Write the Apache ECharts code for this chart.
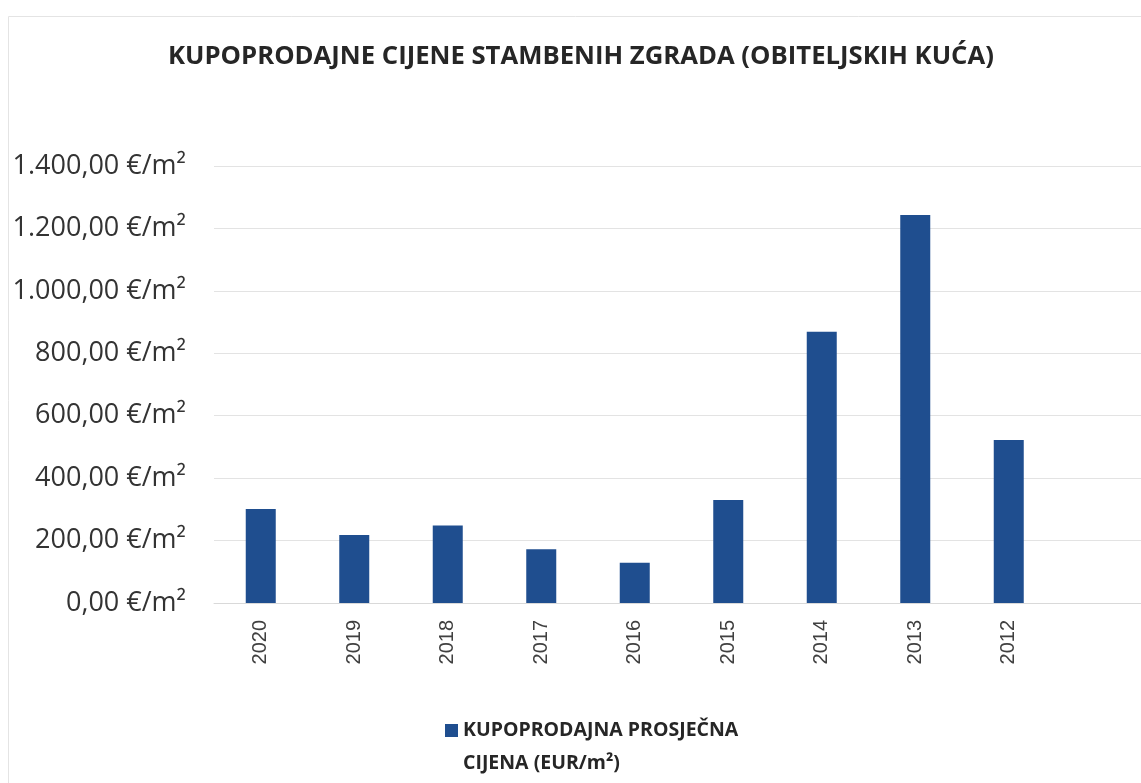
<!DOCTYPE html>
<html>
<head>
<meta charset="utf-8">
<script src="https://cdn.jsdelivr.net/npm/echarts@6/dist/echarts.min.js"></script>
<style>
    html, body { margin: 0; padding: 0; background: #fff; }
    #chart { width: 1141px; height: 783px; }
</style>
</head>
<body>
<div id="chart"></div>
<script>
// godine (zadnja kategorija prazna, kao u Excelu)
var years = ['2020', '2019', '2018', '2017', '2016', '2015', '2014', '2013', '2012', ''];
// prosječna cijena EUR/m2, očitano sa slike
var prices = [301, 218, 248, 172, 129, 330, 869, 1243, 522, null];
var yTicks = [0, 200, 400, 600, 800, 1000, 1200, 1400];
var seriesName = 'KUPOPRODAJNA PROSJEČNA\nCIJENA (EUR/m²)';

function fmtEur(v) {
    var s = v.toFixed(2).split('.');
    var whole = s[0].replace(/\B(?=(\d{3})+(?!\d))/g, '.');
    return whole + ',' + s[1] + ' €/m²';
}

var chart = echarts.init(document.getElementById('chart'));

var option = {
    backgroundColor: '#fff',
    animation: false,
    title: {
        text: 'KUPOPRODAJNE CIJENE STAMBENIH ZGRADA (OBITELJSKIH KUĆA)',
        left: 163,
        top: 39,
        textStyle: {
            fontFamily: 'Open Sans',
            fontWeight: 'bold',
            fontSize: 25.7,
            color: '#262626'
        }
    },
    graphic: [{
        type: 'rect',
        shape: {x: 8.5, y: 16.5, width: 1160, height: 800},
        style: {fill: 'none', stroke: '#e4e4e4', lineWidth: 1},
        silent: true
    }],
    legend: {
        data: [seriesName],
        left: 445,
        top: 681,
        padding: 0,
        icon: 'rect',
        itemWidth: 13,
        itemHeight: 13,
        itemGap: 5,
        // prazni prvi red da kvadratić stoji uz prvi red teksta
        formatter: function (name) {
            return '\n' + name;
        },
        textStyle: {
            fontFamily: 'Open Sans',
            fontWeight: 'bold',
            fontSize: 19.5,
            color: '#262626',
            lineHeight: 33
        }
    },
    grid: {
        left: 214,
        width: 935,
        top: 166,
        bottom: 180,
        outerBoundsMode: 'none',
        containLabel: false
    },
    xAxis: [{
        type: 'category',
        data: years,
        axisLine: {show: true, lineStyle: {color: '#d9d9d9', width: 1}},
        axisTick: {show: false},
        axisLabel: {
            rotate: 90,
            interval: 0,
            margin: 17,
            fontFamily: 'Liberation Sans',
            fontSize: 20,
            color: '#404040'
        }
    }],
    yAxis: [{
        type: 'value',
        min: yTicks[0],
        max: yTicks[yTicks.length - 1],
        interval: 200,
        axisLine: {show: false},
        axisTick: {show: false},
        splitLine: {lineStyle: {color: '#e3e3e3', width: 1}},
        axisLabel: {
            margin: 28,
            fontFamily: 'Open Sans',
            fontSize: 27,
            color: '#333333',
            formatter: fmtEur
        }
    }],
    series: [{
        name: seriesName,
        type: 'bar',
        data: prices,
        barWidth: 30,
        itemStyle: {color: '#1f4e8f'}
    }]
};

chart.setOption(option);
</script>
</body>
</html>
